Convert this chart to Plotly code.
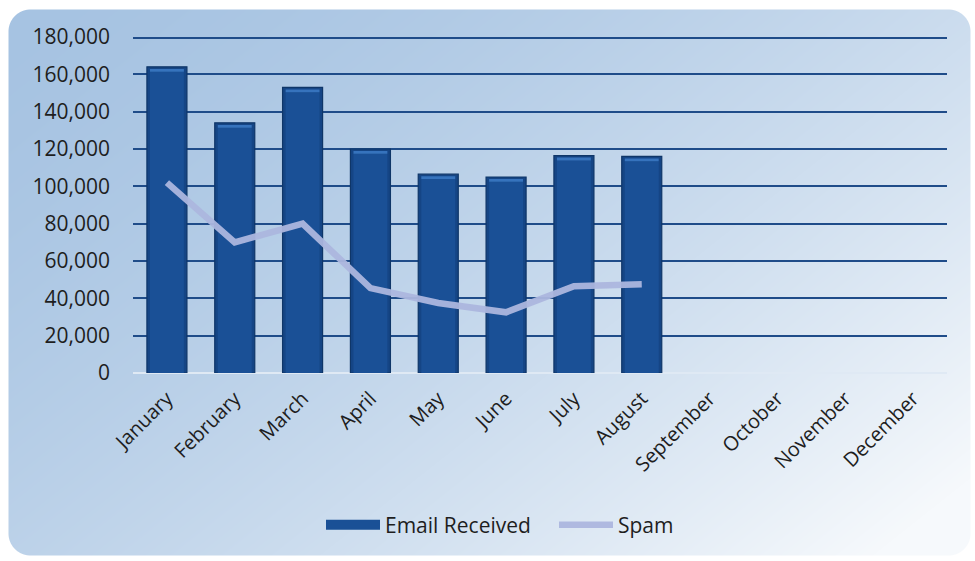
import base64
import struct
import zlib

import numpy as np
import plotly.graph_objects as go

# ---- data ---------------------------------------------------------------
months = ["January", "February", "March", "April", "May", "June",
          "July", "August", "September", "October", "November", "December"]
email_received = [164000, 134000, 153000, 120000, 106500, 105000, 116500, 116000]
spam = [102000, 70000, 80000, 45500, 37500, 32500, 46500, 47500]
y_ticks = [0, 20000, 40000, 60000, 80000, 100000, 120000, 140000, 160000, 180000]

# ---- page geometry --------------------------------------------------------
W, H = 975, 561
ML, MR, MT, MB = 133, 28, 37, 188
PW, PH = W - ML - MR, H - MT - MB
FONT = "Open Sans"
TEXT = "#1e1e1e"
GRID = "#1f4c89"
BAR = "#1a5096"
SPAM = "rgba(172,182,222,0.95)"


def png_uri(rgba):
    """Encode an RGBA uint8 array as a PNG data URI."""
    h, w, _ = rgba.shape
    raw = b"".join(b"\x00" + rgba[i].tobytes() for i in range(h))

    def chunk(tag, data):
        return (struct.pack(">I", len(data)) + tag + data
                + struct.pack(">I", zlib.crc32(tag + data) & 0xFFFFFFFF))

    png = (b"\x89PNG\r\n\x1a\n"
           + chunk(b"IHDR", struct.pack(">IIBBBBB", w, h, 8, 6, 0, 0, 0))
           + chunk(b"IDAT", zlib.compress(raw, 9))
           + chunk(b"IEND", b""))
    return "data:image/png;base64," + base64.b64encode(png).decode()


def card_background():
    """Rounded card with a diagonal steel-blue to white gradient."""
    yy, xx = np.mgrid[0:H, 0:W].astype(float)
    t = np.clip(0.62 * xx / W + 0.45 * yy / H, 0, 1) ** 1.6
    dark = np.array([166, 195, 226], float)
    light = np.array([246, 249, 252], float)
    rgb = dark[None, None, :] + t[..., None] * (light - dark)[None, None, :]

    # rounded rectangle mask
    x0, y0, x1, y1, r = 8, 9, 970, 555, 22
    cx = np.clip(xx, x0 + r, x1 - r)
    cy = np.clip(yy, y0 + r, y1 - r)
    d = np.hypot(xx - cx, yy - cy) - r
    inside = (xx >= x0) & (xx <= x1) & (yy >= y0) & (yy <= y1)
    alpha = np.where(inside, np.clip(0.5 - d, 0, 1), 0.0)

    white = np.full_like(rgb, 255.0)
    out = rgb * alpha[..., None] + white * (1 - alpha[..., None])
    rgba = np.dstack([out, np.full((H, W), 255.0)]).astype(np.uint8)
    return png_uri(rgba)


idx = list(range(len(email_received)))

fig = go.Figure()

# column body with darker edges
fig.add_trace(go.Bar(
    x=idx, y=email_received, width=0.59, name="Email Received",
    legendgroup="email", showlegend=False,
    marker=dict(color="#154585", line=dict(color="#0f3668", width=1.2)),
))
# lighter centre of each column
fig.add_trace(go.Bar(
    x=idx, y=[v - 2600 for v in email_received], width=0.5,
    legendgroup="email", showlegend=False, hoverinfo="skip",
    marker=dict(color=BAR, line=dict(width=0)),
))
# bevel highlight at the top of each column
fig.add_trace(go.Bar(
    x=idx, y=[1500] * len(idx), base=[v - 2600 for v in email_received],
    width=0.5, legendgroup="email", showlegend=False, hoverinfo="skip",
    marker=dict(color="#3673bd", line=dict(width=0)),
))
# wide rectangular legend key for the columns
fig.add_trace(go.Scatter(
    x=[None], y=[None], mode="lines", name="Email Received",
    legendgroup="email", line=dict(color=BAR, width=10),
))

fig.add_trace(go.Scatter(
    x=idx, y=spam, mode="lines", name="Spam",
    line=dict(color=SPAM, width=6.5),
))

fig.update_layout(
    width=W, height=H,
    autosize=False,
    margin=dict(l=ML, r=MR, t=MT, b=MB, autoexpand=False),
    paper_bgcolor="white",
    plot_bgcolor="rgba(0,0,0,0)",
    barmode="overlay",
    font=dict(family=FONT, color=TEXT),
    showlegend=True,
    legend=dict(
        orientation="h", x=(321 - ML) / PW, xanchor="left",
        y=(-(525 - (MT + PH))) / PH, yanchor="middle",
        font=dict(size=21, family=FONT, color=TEXT),
        bgcolor="rgba(0,0,0,0)", itemwidth=54, entrywidth=164,
        traceorder="normal",
    ),
    # top gridline sits on the plot edge, so draw it explicitly
    shapes=[dict(
        type="line", xref="paper", yref="y", x0=0, x1=1,
        y0=y_ticks[-1], y1=y_ticks[-1], line=dict(color=GRID, width=4),
        layer="below",
    )],
    images=[dict(
        source=card_background(), xref="paper", yref="paper",
        x=-ML / PW, y=1 + MT / PH, sizex=W / PW, sizey=H / PH,
        xanchor="left", yanchor="top", sizing="stretch", layer="below",
    )],
)

fig.update_xaxes(
    range=[-0.5, len(months) - 0.5],
    tickmode="array", tickvals=list(range(len(months))), ticktext=months,
    tickangle=-45, tickfont=dict(size=20, family=FONT, color=TEXT),
    showgrid=False, zeroline=False, showline=False, ticks="",
    ticklabelstandoff=9,
)
fig.update_yaxes(
    range=[0, 180000], tickmode="array", tickvals=y_ticks,
    ticktext=[f"{v:,}" for v in y_ticks],
    tickfont=dict(size=21, family=FONT, color=TEXT),
    showgrid=True, gridcolor=GRID, gridwidth=2,
    zeroline=True, zerolinecolor="#dfe9f4", zerolinewidth=2,
    showline=False, ticks="", ticklabelstandoff=22,
)

fig.write_html("out.html")
